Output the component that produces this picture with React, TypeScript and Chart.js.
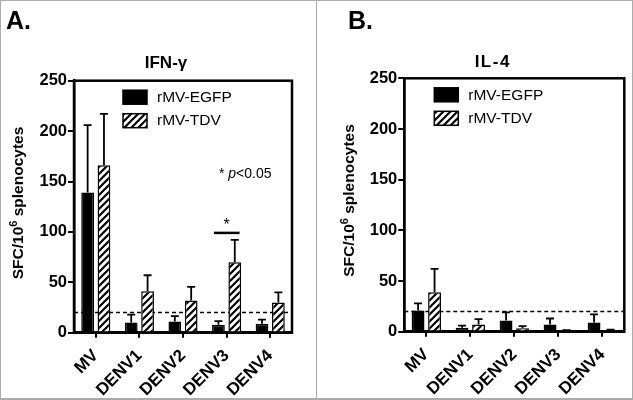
import React, { useEffect, useRef } from 'react';
import { Chart, registerables } from 'chart.js';

Chart.register(...registerables);

// ---------------- data ----------------
const categories = ['MV', 'DENV1', 'DENV2', 'DENV3', 'DENV4'];
const seriesLabels = ['rMV-EGFP', 'rMV-TDV'];
const yTicks = [0, 50, 100, 150, 200, 250];
const detectionLimit = 20;
const yTitleMain = 'SFC/10';
const yTitleSup = '6';
const yTitleRest = ' splenocytes';

// Panel A: IFN-γ
const ifnEgfp = [139, 10, 11, 8, 9];
const ifnEgfpErr = [67, 8, 5.5, 3.5, 4];
const ifnTdv = [166, 41, 32, 70, 30];
const ifnTdvErr = [51, 16, 13.5, 22, 10];
const ifnSigCategory = 'DENV3';
const ifnSigLevel = 99;

// Panel B: IL-4
const il4Egfp = [21, 4, 11, 7, 9];
const il4EgfpErr = [7, 2, 8, 6, 8];
const il4Tdv = [39, 7, 3.5, 1, 1.5];
const il4TdvErr = [23, 5.5, 2, 0.5, 0.5];

const FONT = '"Liberation Sans", Arial, Helvetica, sans-serif';

function makeHatch(): CanvasPattern | string {
  const s = 7;
  const c = document.createElement('canvas');
  c.width = s;
  c.height = s;
  const g = c.getContext('2d');
  if (!g) return '#fff';
  g.fillStyle = '#fff';
  g.fillRect(0, 0, s, s);
  g.strokeStyle = '#000';
  g.lineWidth = 2.2;
  g.beginPath();
  g.moveTo(0, s);
  g.lineTo(s, 0);
  g.moveTo(-s / 2, s / 2);
  g.lineTo(s / 2, -s / 2);
  g.moveTo(s / 2, s * 1.5);
  g.lineTo(s * 1.5, s / 2);
  g.stroke();
  return g.createPattern(c, 'repeat') || '#fff';
}

interface PanelCfg {
  letter: string;
  letterX: number;
  title: string;
  titleX: number;
  titleY: number;
  titleSpacing: number;
  legendX: number;
  legendY: number;
  yWidth: number;
  yTitleX: number;
  yTitleY: number;
  top: number;
  right: number;
  xHeight: number;
  egfp: number[];
  egfpErr: number[];
  tdv: number[];
  tdvErr: number[];
  note?: boolean;
  sigCategory?: string;
  sigLevel?: number;
}

function buildChart(canvas: HTMLCanvasElement, cfg: PanelCfg): Chart {
  const hatch = makeHatch();
  const errs = [cfg.egfpErr, cfg.tdvErr];

  const decor = {
    id: 'decor',
    beforeDatasetsDraw(chart: any) {
      const { ctx, chartArea: a, scales } = chart;
      const y = scales.y.getPixelForValue(detectionLimit);
      ctx.save();
      ctx.strokeStyle = '#000';
      ctx.lineWidth = 1.5;
      ctx.setLineDash([4, 3]);
      ctx.beginPath();
      ctx.moveTo(a.left, y);
      ctx.lineTo(a.right, y);
      ctx.stroke();
      ctx.restore();
    },
    afterDatasetsDraw(chart: any) {
      const { ctx, chartArea: a, scales } = chart;
      const ys = scales.y;
      ctx.save();
      // error bars
      ctx.strokeStyle = '#000';
      ctx.lineWidth = 1.8;
      chart.data.datasets.forEach((ds: any, di: number) => {
        const meta = chart.getDatasetMeta(di);
        meta.data.forEach((bar: any, i: number) => {
          const v = ds.data[i];
          const yTop = ys.getPixelForValue(v);
          const yE = ys.getPixelForValue(v + errs[di][i]);
          ctx.beginPath();
          ctx.moveTo(bar.x, yTop);
          ctx.lineTo(bar.x, yE);
          ctx.moveTo(bar.x - 4, yE);
          ctx.lineTo(bar.x + 4, yE);
          ctx.stroke();
        });
      });
      // frame
      ctx.lineWidth = 2.5;
      ctx.strokeRect(a.left, a.top, a.right - a.left, a.bottom - a.top);

      // legend
      chart.data.datasets.forEach((ds: any, di: number) => {
        const lx = a.left + cfg.legendX;
        const ly = a.top + cfg.legendY + di * 23.5;
        ctx.fillStyle = ds.backgroundColor;
        ctx.fillRect(lx, ly, 24, 14);
        ctx.strokeStyle = '#000';
        ctx.lineWidth = 1.5;
        ctx.strokeRect(lx, ly, 24, 14);
        ctx.fillStyle = '#000';
        ctx.font = `15.5px ${FONT}`;
        ctx.textAlign = 'left';
        ctx.textBaseline = 'middle';
        ctx.fillText(ds.label, lx + 34, ly + 7.5);
      });

      // y-axis title with superscript
      ctx.save();
      ctx.translate(cfg.yTitleX, cfg.yTitleY);
      ctx.rotate(-Math.PI / 2);
      ctx.fillStyle = '#000';
      ctx.textAlign = 'left';
      ctx.textBaseline = 'middle';
      const mainFont = `bold 15.5px ${FONT}`;
      const supFont = `bold 11px ${FONT}`;
      ctx.font = mainFont;
      const w1 = ctx.measureText(yTitleMain).width;
      const w3 = ctx.measureText(yTitleRest).width;
      ctx.font = supFont;
      const w2 = ctx.measureText(yTitleSup).width;
      let tx = -(w1 + w2 + w3) / 2;
      ctx.font = mainFont;
      ctx.fillText(yTitleMain, tx, 0);
      tx += w1;
      ctx.font = supFont;
      ctx.fillText(yTitleSup, tx, -5);
      tx += w2;
      ctx.font = mainFont;
      ctx.fillText(yTitleRest, tx, 0);
      ctx.restore();

      // panel letter and title
      ctx.fillStyle = '#000';
      ctx.textBaseline = 'alphabetic';
      ctx.textAlign = 'left';
      ctx.font = `bold 25px ${FONT}`;
      ctx.fillText(cfg.letter, cfg.letterX, 28.5);
      ctx.textAlign = 'center';
      ctx.font = `bold 17px ${FONT}`;
      (ctx as any).letterSpacing = `${cfg.titleSpacing}px`;
      ctx.fillText(cfg.title, cfg.titleX + cfg.titleSpacing / 2, cfg.titleY);
      (ctx as any).letterSpacing = '0px';

      // p-value note
      if (cfg.note) {
        let x = a.left + 145;
        const y = a.top + 97.5;
        ctx.textAlign = 'left';
        ctx.font = `14px ${FONT}`;
        ctx.fillText('* ', x, y);
        x += ctx.measureText('* ').width;
        ctx.font = `italic 14px ${FONT}`;
        ctx.fillText('p', x, y);
        x += ctx.measureText('p').width;
        ctx.font = `14px ${FONT}`;
        ctx.fillText('<0.05', x, y);
      }

      // significance bar
      if (cfg.sigCategory && cfg.sigLevel !== undefined) {
        const idx = categories.indexOf(cfg.sigCategory);
        const b0 = chart.getDatasetMeta(0).data[idx];
        const b1 = chart.getDatasetMeta(1).data[idx];
        const y = ys.getPixelForValue(cfg.sigLevel);
        ctx.strokeStyle = '#000';
        ctx.lineWidth = 2.5;
        ctx.beginPath();
        ctx.moveTo(b0.x - 4.5, y);
        ctx.lineTo(b1.x + 4.8, y);
        ctx.stroke();
        ctx.textAlign = 'center';
        ctx.font = `16px ${FONT}`;
        ctx.fillText('*', (b0.x + b1.x) / 2, y - 3);
      }
      ctx.restore();
    },
  };

  const tickFont = { family: FONT, size: 17, weight: 'bold' as const };

  return new Chart(canvas, {
    type: 'bar',
    data: {
      labels: categories,
      datasets: [
        {
          label: seriesLabels[0],
          data: cfg.egfp,
          backgroundColor: '#000',
          borderColor: '#000',
          borderWidth: 1.5,
          categoryPercentage: 0.75,
          barPercentage: 0.78,
        },
        {
          label: seriesLabels[1],
          data: cfg.tdv,
          backgroundColor: hatch as any,
          borderColor: '#000',
          borderWidth: 1.5,
          categoryPercentage: 0.75,
          barPercentage: 0.78,
        },
      ],
    },
    options: {
      responsive: false,
      animation: false,
      devicePixelRatio: 1,
      layout: { padding: { left: 0, right: cfg.right, top: cfg.top, bottom: 0 } },
      plugins: {
        legend: { display: false },
        title: { display: false },
        tooltip: { enabled: false },
      },
      scales: {
        x: {
          type: 'category',
          offset: true,
          ticks: { font: tickFont, color: '#000', maxRotation: 45, minRotation: 45, padding: 8, autoSkip: false },
          grid: { offset: false, drawOnChartArea: false, drawTicks: true, tickLength: 5, color: '#000', lineWidth: 2 },
          border: { display: true, color: '#000', width: 2.5 },
          afterFit: (s: any) => {
            s.height = cfg.xHeight;
          },
        },
        y: {
          min: 0,
          max: 250,
          afterBuildTicks: (s: any) => {
            s.ticks = yTicks.map((v) => ({ value: v }));
          },
          ticks: { font: { family: FONT, size: 16.5, weight: 'bold' }, color: '#000', padding: 1 },
          grid: { drawOnChartArea: false, drawTicks: true, tickLength: 6, color: '#000', lineWidth: 2 },
          border: { display: true, color: '#000', width: 2.5 },
          title: { display: false },
          afterFit: (s: any) => {
            s.width = cfg.yWidth;
          },
        },
      },
    } as any,
    plugins: [decor],
  });
}

export default function App() {
  const refA = useRef<HTMLCanvasElement>(null);
  const refB = useRef<HTMLCanvasElement>(null);

  useEffect(() => {
    if (!refA.current || !refB.current) return;
    const a = buildChart(refA.current, {
      letter: 'A.',
      letterX: 6,
      title: 'IFN-γ',
      titleX: 166,
      titleY: 68,
      titleSpacing: 0,
      legendX: 49,
      legendY: 9.5,
      yWidth: 74,
      yTitleX: 18.5,
      yTitleY: 203,
      top: 80.7,
      right: 24,
      xHeight: 67.3,
      egfp: ifnEgfp,
      egfpErr: ifnEgfpErr,
      tdv: ifnTdv,
      tdvErr: ifnTdvErr,
      note: true,
      sigCategory: ifnSigCategory,
      sigLevel: ifnSigLevel,
    });
    const b = buildChart(refB.current, {
      letter: 'B.',
      letterX: 31,
      title: 'IL-4',
      titleX: 175,
      titleY: 67,
      titleSpacing: 1.5,
      legendX: 30,
      legendY: 9.5,
      yWidth: 87.3,
      yTitleX: 32.5,
      yTitleY: 200.5,
      top: 78.3,
      right: 8.7,
      xHeight: 68.3,
      egfp: il4Egfp,
      egfpErr: il4EgfpErr,
      tdv: il4Tdv,
      tdvErr: il4TdvErr,
    });
    return () => {
      a.destroy();
      b.destroy();
    };
  }, []);

  return (
    <div style={{ position: 'absolute', left: 0, top: 0, width: 633, height: 400, background: '#fff', overflow: 'hidden' }}>
      <canvas ref={refA} width={316} height={400} style={{ position: 'absolute', left: 0, top: 0 }} />
      <canvas ref={refB} width={316} height={400} style={{ position: 'absolute', left: 317, top: 0 }} />
      <div style={{ position: 'absolute', left: 316, top: 0, width: 1, height: 400, background: '#ababab' }} />
      <div
        style={{
          position: 'absolute',
          left: 0,
          top: 0,
          width: 633,
          height: 400,
          border: '1px solid #ababab',
          borderBottomWidth: 2,
          boxSizing: 'border-box',
          pointerEvents: 'none',
        }}
      />
    </div>
  );
}
